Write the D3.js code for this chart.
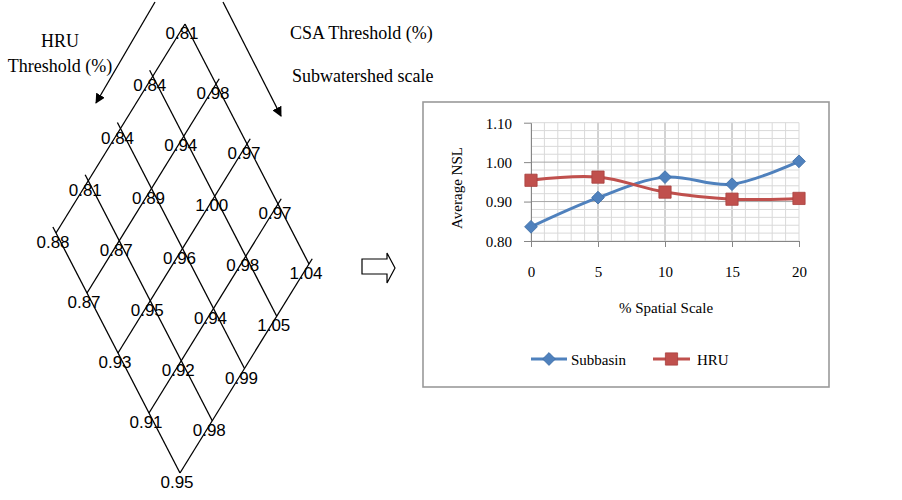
<!DOCTYPE html>
<html lang="en">
<head>
  <meta charset="UTF-8">
  <title>Average NSL vs spatial scale</title>
  <style>
    body {
      margin: 0;
      background: #fff;
    }
    svg {
      display: block;
    }
  </style>
</head>
<body>
  <script src="https://d3js.org/d3.v7.min.js"></script>
  <script>
    'use strict';

    // NSL at each (CSA threshold step, HRU threshold step) of the lattice
    const csaSteps = [0, 1, 2, 3, 4];
    const hruSteps = [0, 1, 2, 3, 4];
    const nslGrid = [
      [0.81, 0.84, 0.84, 0.81, 0.88],
      [0.98, 0.94, 0.89, 0.87, 0.87],
      [0.97, 1.00, 0.96, 0.95, 0.93],
      [0.97, 0.98, 0.94, 0.92, 0.91],
      [1.04, 1.05, 0.99, 0.98, 0.95]
    ];

    // line chart
    const spatialScale = [0, 5, 10, 15, 20];
    const subbasinNSL = [0.836, 0.910, 0.962, 0.944, 1.002];
    const hruNSL = [0.954, 0.962, 0.924, 0.906, 0.908];
    const yTicks = [0.80, 0.90, 1.00, 1.10];

    const width = 902;
    const height = 500;

    const serif = '"Liberation Serif", "Times New Roman", serif';
    const sans = '"Liberation Sans", Arial, sans-serif';

    const blue = '#4F81BD';
    const red = '#C0504D';

    const svg = d3.select('body')
      .append('svg')
      .attr('width', width)
      .attr('height', height);

    // ---------- lattice ----------
    const topNode = { x: 185, y: 24 };
    const uX = d3.scaleLinear().domain([0, 4]).range([0, 124]);   // CSA direction
    const uY = d3.scaleLinear().domain([0, 4]).range([0, 240]);
    const vX = d3.scaleLinear().domain([0, 4]).range([0, -129]);  // HRU direction
    const vY = d3.scaleLinear().domain([0, 4]).range([0, 209]);

    const node = (i, j) => [topNode.x + uX(i) + vX(j), topNode.y + uY(i) + vY(j)];

    const lattice = svg.append('g')
      .attr('stroke', '#000')
      .attr('stroke-width', 1.3)
      .attr('fill', 'none');

    // lines along CSA direction (fixed HRU step)
    hruSteps.forEach(j => {
      const a = node(j === 0 ? 0 : -0.1, j);
      const b = node(4, j);
      lattice.append('line')
        .attr('x1', a[0]).attr('y1', a[1])
        .attr('x2', b[0]).attr('y2', b[1]);
    });

    // lines along HRU direction (fixed CSA step)
    csaSteps.forEach(i => {
      const a = node(i, i === 0 ? 0 : -0.1);
      const b = node(i, 4);
      lattice.append('line')
        .attr('x1', a[0]).attr('y1', a[1])
        .attr('x2', b[0]).attr('y2', b[1]);
    });

    const cells = [];
    csaSteps.forEach(i => hruSteps.forEach(j => cells.push({ i: i, j: j, v: nslGrid[i][j] })));

    svg.append('g')
      .selectAll('text')
      .data(cells)
      .enter()
      .append('text')
      .attr('x', d => node(d.i, d.j)[0] - 3)
      .attr('y', d => node(d.i, d.j)[1] + 15)
      .attr('text-anchor', 'middle')
      .attr('font-family', sans)
      .attr('font-size', '17px')
      .attr('fill', '#000')
      .text(d => d3.format('.2f')(d.v));

    // direction arrows
    svg.append('defs').append('marker')
      .attr('id', 'head')
      .attr('viewBox', '0 0 10 10')
      .attr('refX', 9)
      .attr('refY', 5)
      .attr('markerWidth', 10)
      .attr('markerHeight', 10)
      .attr('markerUnits', 'userSpaceOnUse')
      .attr('orient', 'auto')
      .append('path')
      .attr('d', 'M0,0 L10,5 L0,10 Z')
      .attr('fill', '#000');

    svg.append('line')
      .attr('x1', 155).attr('y1', 2).attr('x2', 96).attr('y2', 103)
      .attr('stroke', '#000').attr('stroke-width', 1.3)
      .attr('marker-end', 'url(#head)');

    svg.append('line')
      .attr('x1', 223).attr('y1', 2).attr('x2', 281).attr('y2', 116)
      .attr('stroke', '#000').attr('stroke-width', 1.3)
      .attr('marker-end', 'url(#head)');

    const note = svg.append('g')
      .attr('font-family', serif)
      .attr('font-size', '18px')
      .attr('fill', '#000');
    note.append('text').attr('x', 60).attr('y', 47).attr('text-anchor', 'middle').text('HRU');
    note.append('text').attr('x', 60).attr('y', 72).attr('text-anchor', 'middle').text('Threshold (%)');
    note.append('text').attr('x', 290).attr('y', 39).text('CSA Threshold (%)');
    note.append('text').attr('x', 292).attr('y', 82).text('Subwatershed scale');

    // hollow block arrow
    svg.append('path')
      .attr('d', 'M362,259 L387,259 L387,253 L395,268 L387,283 L387,274 L362,274 Z')
      .attr('fill', '#fff')
      .attr('stroke', '#000')
      .attr('stroke-width', 1.2);

    // ---------- line chart ----------
    svg.append('rect')
      .attr('x', 423).attr('y', 102)
      .attr('width', 406).attr('height', 285)
      .attr('fill', '#fff')
      .attr('stroke', '#9a9a9a')
      .attr('stroke-width', 1.6);

    const x = d3.scaleLinear().domain([0, 20]).range([531, 799]);
    const y = d3.scaleLinear().domain([0.80, 1.10]).range([241, 122.7]);

    const grid = svg.append('g').attr('stroke-width', 1);

    d3.range(0, 21).forEach(k => {
      const major = k % 5 === 0 && k > 0 && k < 20;
      grid.append('line')
        .attr('x1', x(k)).attr('x2', x(k))
        .attr('y1', y(0.80)).attr('y2', y(1.10))
        .attr('stroke', major ? '#a6a6a6' : '#d9d9d9');
    });

    d3.range(0, 16).forEach(k => {
      const major = k % 5 === 0 && k > 0 && k < 15;
      const v = 0.80 + k * 0.02;
      grid.append('line')
        .attr('x1', x(0)).attr('x2', x(20))
        .attr('y1', y(v)).attr('y2', y(v))
        .attr('stroke', major ? '#a6a6a6' : '#d9d9d9');
    });

    const yAxis = d3.axisLeft(y)
      .tickValues(yTicks)
      .tickSize(7)
      .tickSizeOuter(0)
      .tickPadding(12)
      .tickFormat(d3.format('.2f'));

    const xAxis = d3.axisBottom(x)
      .tickValues(spatialScale)
      .tickSize(6)
      .tickSizeOuter(0)
      .tickPadding(19)
      .tickFormat(d3.format('d'));

    const gy = svg.append('g')
      .attr('transform', 'translate(' + x(0) + ',0)')
      .call(yAxis);
    const gx = svg.append('g')
      .attr('transform', 'translate(0,' + y(0.80) + ')')
      .call(xAxis);

    [gx, gy].forEach(g => {
      g.selectAll('path, line').attr('stroke', '#868686');
      g.selectAll('text')
        .attr('font-family', serif)
        .attr('font-size', '15px')
        .attr('fill', '#000');
    });
    gy.selectAll('text').attr('dy', '0.36em');

    svg.append('text')
      .attr('x', 666).attr('y', 313)
      .attr('text-anchor', 'middle')
      .attr('font-family', serif)
      .attr('font-size', '15px')
      .text('% Spatial Scale');

    svg.append('text')
      .attr('transform', 'translate(462,188) rotate(-90)')
      .attr('text-anchor', 'middle')
      .attr('font-family', serif)
      .attr('font-size', '15px')
      .text('Average NSL');

    const line = d3.line()
      .x(d => x(d[0]))
      .y(d => y(d[1]))
      .curve(d3.curveCardinal.tension(0));

    const diamond = d3.symbol().type(d3.symbolSquare).size(82)();
    const square = d3.symbol().type(d3.symbolSquare).size(150)();

    const series = [
      { name: 'Subbasin', values: subbasinNSL, color: blue, stroke: '#3f6fa8', shape: diamond, rot: 45 },
      { name: 'HRU', values: hruNSL, color: red, stroke: '#a8403d', shape: square, rot: 0 }
    ];

    series.forEach(s => {
      const pts = spatialScale.map((v, k) => [v, s.values[k]]);
      svg.append('path')
        .attr('d', line(pts))
        .attr('fill', 'none')
        .attr('stroke', s.color)
        .attr('stroke-width', 3);
      svg.append('g')
        .selectAll('path')
        .data(pts)
        .enter()
        .append('path')
        .attr('d', s.shape)
        .attr('transform', d => 'translate(' + x(d[0]) + ',' + y(d[1]) + ') rotate(' + s.rot + ')')
        .attr('fill', s.color)
        .attr('stroke', s.stroke)
        .attr('stroke-width', 0.8);
    });

    // legend
    const legendY = 359;
    const legendItems = [
      { s: series[0], x0: 531, x1: 567, tx: 571 },
      { s: series[1], x0: 653, x1: 690, tx: 697 }
    ];
    legendItems.forEach(l => {
      svg.append('line')
        .attr('x1', l.x0).attr('x2', l.x1)
        .attr('y1', legendY).attr('y2', legendY)
        .attr('stroke', l.s.color)
        .attr('stroke-width', 3);
      svg.append('path')
        .attr('d', l.s.shape)
        .attr('transform', 'translate(' + ((l.x0 + l.x1) / 2) + ',' + legendY + ') rotate(' + l.s.rot + ')')
        .attr('fill', l.s.color)
        .attr('stroke', l.s.stroke)
        .attr('stroke-width', 0.8);
      svg.append('text')
        .attr('x', l.tx).attr('y', legendY + 6)
        .attr('font-family', serif)
        .attr('font-size', '15px')
        .text(l.s.name);
    });
  </script>
</body>
</html>
